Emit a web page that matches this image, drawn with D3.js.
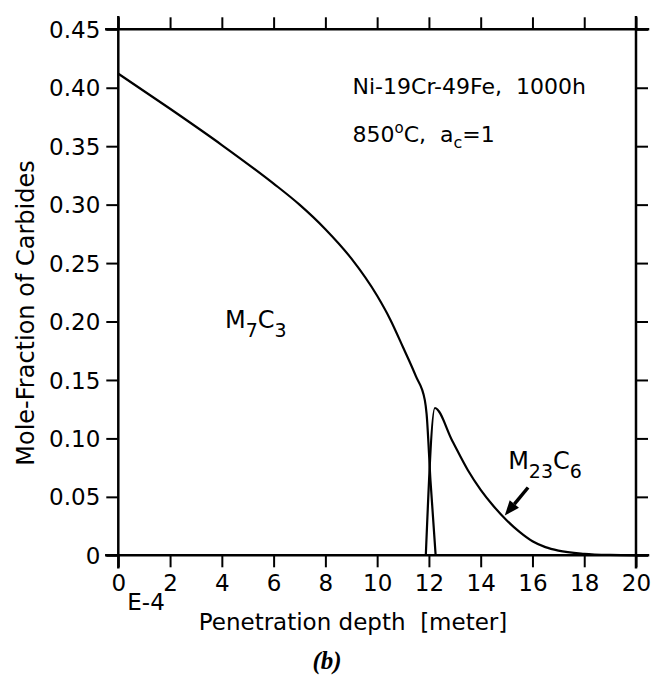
<!DOCTYPE html>
<html>
<head>
<meta charset="utf-8">
<script src="https://cdn.jsdelivr.net/npm/d3@7"></script>
<style>
  body { margin: 0; background: #fff; }
  text { font-family: "DejaVu Sans", sans-serif; fill: #000; }
</style>
</head>
<body>
<div id="chart"></div>
<script>
// values (depth in units of 1E-4 m, mole fraction)
const m7c3Depth = [0, 2, 4, 6, 7, 8, 9, 10, 10.5, 11, 11.5, 11.84, 11.91, 12.06, 12.26];
const m7c3Frac  = [0.412, 0.382, 0.351, 0.318, 0.300, 0.279, 0.254, 0.222, 0.202, 0.178, 0.153, 0.133, 0.121, 0.064, 0];

const m23c6Depth = [11.88, 12.23, 12.9, 13.5, 14.0, 14.5, 15.0, 15.5, 16.0, 16.5, 17.0, 18.0, 19.0, 20];
const m23c6Frac  = [0, 0.126, 0.098, 0.073, 0.056, 0.042, 0.030, 0.020, 0.012, 0.007, 0.004, 0.0013, 0.0003, 0];

const xTicks = [0, 2, 4, 6, 8, 10, 12, 14, 16, 18, 20];
const yTicks = [0, 0.05, 0.10, 0.15, 0.20, 0.25, 0.30, 0.35, 0.40, 0.45];
const yTickLabels = ["0", "0.05", "0.10", "0.15", "0.20", "0.25", "0.30", "0.35", "0.40", "0.45"];

const width = 653, height = 679;
const marginLeft = 118.3, marginRight = 17, marginTop = 29.3, marginBottom = 123.7;

const x = d3.scaleLinear([0, 20], [marginLeft, width - marginRight]);
const y = d3.scaleLinear([0, 0.45], [height - marginBottom, marginTop]);

const svg = d3.select("#chart").append("svg")
    .attr("width", width)
    .attr("height", height)
    .attr("viewBox", [0, 0, width, height]);

const tickLen = 12;
const axisWidth = 2.5;

// bottom axis with labels
svg.append("g")
    .attr("transform", `translate(0,${y(0)})`)
    .call(d3.axisBottom(x).tickValues(xTicks).tickSize(tickLen).tickSizeOuter(0))
    .call(g => g.select(".domain").remove())
    .call(g => g.selectAll(".tick line").attr("stroke-width", 2))
    .call(g => g.selectAll(".tick text")
        .attr("y", 36).attr("dy", 0)
        .attr("font-size", 23));

// left axis with labels
svg.append("g")
    .attr("transform", `translate(${x(0)},0)`)
    .call(d3.axisLeft(y).tickValues(yTicks).tickSize(tickLen).tickSizeOuter(0)
        .tickFormat((d, i) => yTickLabels[i]))
    .call(g => g.select(".domain").remove())
    .call(g => g.selectAll(".tick line").attr("stroke-width", 2))
    .call(g => g.selectAll(".tick text")
        .attr("x", -18).attr("dy", "0.35em")
        .attr("font-size", 23));

// top and right: ticks only
svg.append("g")
    .attr("transform", `translate(0,${y(0.45)})`)
    .call(d3.axisTop(x).tickValues(xTicks).tickSize(tickLen).tickSizeOuter(0).tickFormat(""))
    .call(g => g.select(".domain").remove())
    .call(g => g.selectAll(".tick line").attr("stroke-width", 2));

svg.append("g")
    .attr("transform", `translate(${x(20)},0)`)
    .call(d3.axisRight(y).tickValues(yTicks).tickSize(tickLen).tickSizeOuter(0).tickFormat(""))
    .call(g => g.select(".domain").remove())
    .call(g => g.selectAll(".tick line").attr("stroke-width", 2));

// frame lines, running past the corners
const ext = 12;
const frame = [
  [x(0) - ext, y(0), x(20) + ext, y(0)],
  [x(0) - ext, y(0.45), x(20) + ext, y(0.45)],
  [x(0), y(0.45) - ext, x(0), y(0) + ext],
  [x(20), y(0.45) - ext, x(20), y(0) + ext]
];
svg.append("g").selectAll("line").data(frame).join("line")
    .attr("x1", d => d[0]).attr("y1", d => d[1])
    .attr("x2", d => d[2]).attr("y2", d => d[3])
    .attr("stroke", "#000")
    .attr("stroke-width", axisWidth)
    .attr("stroke-linecap", "square");

// curves
const line = d3.line()
    .curve(d3.curveMonotoneX)
    .x(d => x(d[0]))
    .y(d => y(d[1]));

svg.append("path")
    .attr("fill", "none")
    .attr("stroke", "#000")
    .attr("stroke-width", 2.2)
    .attr("stroke-linejoin", "round")
    .attr("d", line(d3.zip(m7c3Depth, m7c3Frac)));

svg.append("path")
    .attr("fill", "none")
    .attr("stroke", "#000")
    .attr("stroke-width", 2.2)
    .attr("stroke-linejoin", "round")
    .attr("d", line(d3.zip(m23c6Depth, m23c6Frac)));

// axis titles
svg.append("text")
    .attr("x", 353)
    .attr("y", 630)
    .attr("text-anchor", "middle")
    .attr("font-size", 23)
    .style("white-space", "pre")
    .text("Penetration depth  [meter]");

svg.append("text")
    .attr("x", x(0) + 9)
    .attr("y", 610)
    .attr("font-size", 23)
    .text("E-4");

svg.append("text")
    .attr("transform", `translate(34,313) rotate(-90)`)
    .attr("text-anchor", "middle")
    .attr("font-size", 24)
    .text("Mole-Fraction of Carbides");

// annotations
svg.append("text")
    .attr("x", x(9.05)).attr("y", y(0.3947))
    .attr("font-size", 22)
    .style("white-space", "pre")
    .text("Ni-19Cr-49Fe,  1000h");

const t2 = svg.append("text")
    .attr("x", x(9.05)).attr("y", y(0.3538))
    .attr("font-size", 22)
    .style("white-space", "pre");
t2.append("tspan").text("850");
t2.append("tspan").attr("font-size", 15).attr("dy", -9).text("o");
t2.append("tspan").attr("dy", 9).text("C,  a");
t2.append("tspan").attr("font-size", 16).attr("dy", 6).text("c");
t2.append("tspan").attr("dy", -6).text("=1");

function chem(px, py, parts) {
  const t = svg.append("text").attr("x", x(px)).attr("y", y(py)).attr("font-size", 24);
  let sub = false;
  parts.forEach(p => {
    if (p.sub) {
      t.append("tspan").attr("font-size", 19).attr("dy", sub ? 0 : 9).text(p.s);
      sub = true;
    } else {
      t.append("tspan").attr("dy", sub ? -9 : 0).text(p.s);
      sub = false;
    }
  });
}
chem(4.12, 0.1945, [{s: "M"}, {s: "7", sub: true}, {s: "C"}, {s: "3", sub: true}]);
chem(15.06, 0.0736, [{s: "M"}, {s: "23", sub: true}, {s: "C"}, {s: "6", sub: true}]);

// arrow pointing at the M23C6 curve
const tail = [x(15.83), y(0.058)];
const tip = [x(14.93), y(0.034)];
const ang = Math.atan2(tip[1] - tail[1], tip[0] - tail[0]);
const headLen = 15, headW = 6;
const base = [tip[0] - headLen * Math.cos(ang), tip[1] - headLen * Math.sin(ang)];
svg.append("line")
    .attr("x1", tail[0]).attr("y1", tail[1])
    .attr("x2", base[0]).attr("y2", base[1])
    .attr("stroke", "#000").attr("stroke-width", 3.5);
svg.append("path")
    .attr("fill", "#000")
    .attr("d", d3.line()([
      tip,
      [base[0] + headW * Math.sin(ang), base[1] - headW * Math.cos(ang)],
      [base[0] - headW * Math.sin(ang), base[1] + headW * Math.cos(ang)]
    ]) + "Z");

// caption
svg.append("text")
    .attr("x", 327)
    .attr("y", 669)
    .attr("text-anchor", "middle")
    .style("font-family", "'Liberation Serif', serif")
    .style("font-style", "italic")
    .style("font-weight", "bold")
    .attr("font-size", 25)
    .text("(b)");
</script>
</body>
</html>
